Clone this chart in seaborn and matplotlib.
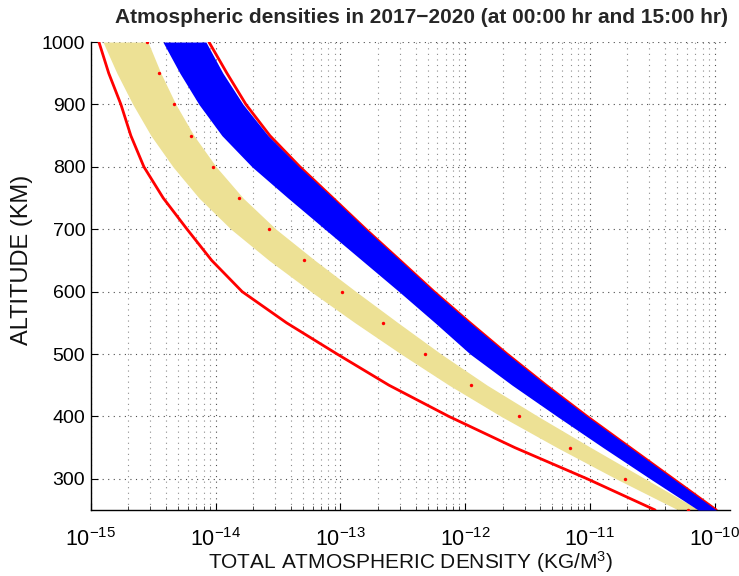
import matplotlib
matplotlib.use("Agg")
import matplotlib.pyplot as plt
import seaborn as sns
import pandas as pd
from matplotlib.ticker import LogLocator, FixedLocator, NullFormatter

# Altitude levels (km)
altitude = [250, 300, 350, 400, 450, 500, 550, 600, 650, 700, 750, 800, 850, 900, 950, 1000]

# Khaki band (lower / upper density, kg/m^3)
khaki_low = [5.10e-11, 1.62e-11, 5.46e-12, 1.94e-12, 7.43e-13, 3.06e-13, 1.31e-13, 5.81e-14,
             2.68e-14, 1.327e-14, 7.35e-15, 4.55e-15, 3.03e-15, 2.17e-15, 1.617e-15, 1.25e-15]
khaki_high = [7.51e-11, 2.77e-11, 1.02e-11, 3.84e-12, 1.50e-12, 6.41e-13, 2.90e-13, 1.334e-13,
              6.26e-14, 3.05e-14, 1.66e-14, 1.01e-14, 6.70e-15, 4.80e-15, 3.64e-15, 2.87e-15]

# Blue band (lower / upper density)
blue_low = [7.37e-11, 3.04e-11, 1.276e-11, 5.46e-12, 2.38e-12, 1.095e-12, 5.74e-13, 2.95e-13,
            1.49e-13, 7.52e-14, 3.80e-14, 1.955e-14, 1.123e-14, 7.35e-15, 5.17e-15, 3.78e-15]
blue_high = [1.03e-10, 4.65e-11, 2.10e-11, 9.50e-12, 4.46e-12, 2.17e-12, 1.095e-12, 5.63e-13,
             3.01e-13, 1.60e-13, 8.72e-14, 4.66e-14, 2.63e-14, 1.66e-14, 1.144e-14, 8.36e-15]

# Red reference curves
red_low = [3.33e-11, 9.5e-12, 2.5e-12, 7.4e-13, 2.45e-13, 9.4e-14, 3.7e-14, 1.63e-14,
           9.3e-15, 5.9e-15, 3.8e-15, 2.66e-15, 2.09e-15, 1.74e-15, 1.39e-15, 1.16e-15]
red_high = [1.03e-10, 4.65e-11, 2.10e-11, 9.50e-12, 4.46e-12, 2.17e-12, 1.095e-12, 5.63e-13,
            3.01e-13, 1.60e-13, 8.72e-14, 4.74e-14, 2.72e-14, 1.75e-14, 1.232e-14, 8.84e-15]

# Red dots (mean values)
red_dots = [6.1e-11, 1.9e-11, 6.9e-12, 2.7e-12, 1.11e-12, 4.8e-13, 2.18e-13, 1.03e-13,
            5.1e-14, 2.7e-14, 1.54e-14, 9.5e-15, 6.4e-15, 4.6e-15, 3.5e-15, 2.8e-15]

title = "Atmospheric densities in 2017\u22122020 (at 00:00 hr and 15:00 hr)"
xlabel = "TOTAL ATMOSPHERIC DENSITY (KG/M$^3$)"
ylabel = "ALTITUDE (KM)"
yticks = [300, 400, 500, 600, 700, 800, 900, 1000]

df = pd.DataFrame({
    "alt": altitude, "khaki_low": khaki_low, "khaki_high": khaki_high,
    "blue_low": blue_low, "blue_high": blue_high,
    "red_low": red_low, "red_high": red_high, "dots": red_dots,
})

sns.set_theme(style="white")
plt.rcParams['font.family'] = ['Liberation Sans', 'DejaVu Sans']
plt.rcParams['mathtext.fontset'] = 'custom'
plt.rcParams['mathtext.rm'] = 'Liberation Sans'
plt.rcParams['mathtext.it'] = 'Liberation Sans:italic'
plt.rcParams['mathtext.bf'] = 'Liberation Sans:bold'

fig = plt.figure(figsize=(7.39, 5.76), dpi=100)
ax = fig.add_axes([0.123, 0.1146, 0.865, 0.8124])
ax.set_xscale('log')

ax.fill_betweenx(df["alt"], df["khaki_low"], df["khaki_high"], color='#EDE195', lw=0, zorder=2)
sns.lineplot(data=df, x="red_high", y="alt", sort=False, estimator=None, color='#FF0000',
             lw=2.0, ax=ax, zorder=2.5)
ax.fill_betweenx(df["alt"], df["blue_low"], df["blue_high"], color='#0000FF', lw=0, zorder=3)
sns.lineplot(data=df, x="red_low", y="alt", sort=False, estimator=None, color='#FF0000',
             lw=2.0, ax=ax, zorder=4)
sns.scatterplot(data=df, x="dots", y="alt", color='#FF0000', s=6, linewidth=0, ax=ax, zorder=5)

ax.set_xlim(1e-15, 1.33e-10)
ax.set_ylim(250, 1000)
ax.yaxis.set_major_locator(FixedLocator(yticks))
ax.xaxis.set_major_locator(LogLocator(base=10, numticks=20))
ax.xaxis.set_minor_locator(LogLocator(base=10, subs=[2, 3, 4, 5, 6, 7, 8, 9], numticks=100))
ax.xaxis.set_minor_formatter(NullFormatter())

ax.grid(True, which='major', axis='both', linestyle=(0, (1, 4)), color='0.3', lw=0.8, zorder=1)
ax.grid(True, which='minor', axis='x', linestyle=(0, (1, 4)), color='0.55', lw=0.8, zorder=1)
ax.set_axisbelow(True)

for s in ['top', 'right']:
    ax.spines[s].set_visible(False)
for s in ['left', 'bottom']:
    ax.spines[s].set_color('black')
    ax.spines[s].set_linewidth(1.0)

ax.tick_params(axis='both', which='major', direction='in', length=5, width=0.8, colors='black',
               bottom=True, left=True, top=False, right=False)
ax.tick_params(axis='x', which='minor', direction='in', length=3, width=0.6, bottom=True, top=False)
ax.tick_params(axis='y', labelsize=14, pad=4)
ax.tick_params(axis='x', labelsize=15.5, pad=13)

ax.set_xlabel(xlabel, fontsize=15, labelpad=-1, color='#111111')
ax.set_ylabel("")
fig.text(0.03, 0.549, ylabel, rotation=90, ha='center', va='center', fontsize=17, color='#111111')
fig.text(0.571, 0.97, title, ha='center', va='center', fontsize=15, fontweight='bold')

fig.savefig("out.png", dpi=100)
